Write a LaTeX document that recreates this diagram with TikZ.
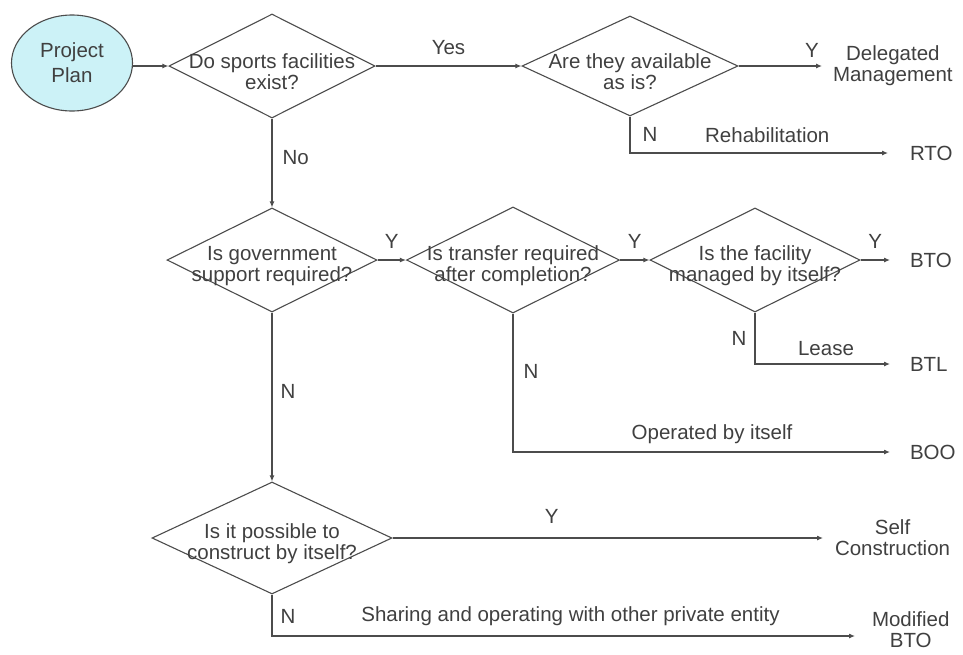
\documentclass[tikz,border=0pt]{standalone}
\usepackage{fontspec}
\setmainfont{Liberation Sans}
\usetikzlibrary{shapes.geometric,arrows.meta}
\definecolor{PlanCyan}{rgb}{0.80, 0.95, 0.97}
\definecolor{LineGray}{rgb}{0.30, 0.30, 0.30}
\definecolor{TextGray}{rgb}{0.25, 0.25, 0.25}

\tikzset{
	plan/.style={ellipse, draw=LineGray, line width=1.1pt, fill=PlanCyan, minimum width=121pt, minimum height=96pt, align=center, font=\fontsize{20.5}{25}\selectfont},
	question/.style={diamond, draw=LineGray, line width=1.1pt, inner sep=0pt},
	qtext/.style={align=center, inner sep=0pt, yshift=-6pt},
	result/.style={align=center, inner sep=2pt, anchor=west, outer xsep=#1},
	flow/.style={draw=LineGray, line width=1.1pt, -{Latex[length=6pt,width=5pt]}},
	tag/.style={inner sep=2pt}
}

\begin{document}
\begin{tikzpicture}[x=1pt,y=1pt,yscale=-1,xscale=1, font=\fontsize{20.5}{21}\selectfont, text=TextGray]
		\path[use as bounding box] (0,0) rectangle (963,654);

		% Start node
		\node[plan] (plan) at (72,63) {Project\\Plan};

		% The decisions
		\node[question, minimum width=206pt, minimum height=104pt, label={[qtext]center:Do sports facilities\\exist?}] (exist) at (272,66) {};
		\node[question, minimum width=216pt, minimum height=100pt, label={[qtext]center:Are they available\\as is?}] (avail) at (630,66) {};
		\node[question, minimum width=210pt, minimum height=104pt, label={[qtext]center:Is government\\support required?}] (govt) at (272,260) {};
		\node[question, minimum width=213pt, minimum height=106pt, label={[qtext]center:Is transfer required\\after completion?}] (transfer) at (513,260) {};
		\node[question, minimum width=210pt, minimum height=104pt, label={[qtext]center:Is the facility\\managed by itself?}] (managed) at (755,260) {};
		\node[question, minimum width=240pt, minimum height=112pt, label={[qtext]center:Is it possible to\\construct by itself?}] (construct) at (272,538) {};

		% The outcomes
		\node[result=9pt] (deleg) at (822,66) {Delegated\\Management};
		\node[result=20pt] (rto) at (888,153) {RTO};
		\node[result=18pt] (bto) at (890,260) {BTO};
		\node[result=18pt] (btl) at (890,364) {BTL};
		\node[result=18pt] (boo) at (890,452) {BOO};
		\node[result=10pt] (selfc) at (823,538) {Self\\Construction};
		\node[result=15pt] (mbto) at (855,630) {Modified\\BTO};

		% Connectors of the first row
		\draw[flow] (plan.east |- exist.west) -- (exist.west);
		\draw[flow] (exist.east) -- node[tag, above=9pt] {Yes} (avail.west);
		\draw[flow] (avail.east) -- node[tag, pos=0.88, above=6pt] {Y} (deleg.west);
		\draw[flow] (avail.south) |- node[tag, pos=0.25, right=10pt] {N} node[tag, pos=0.766, above=8pt] {Rehabilitation} (rto.west);
		\draw[flow] (exist.south) -- node[tag, pos=0.44, right=8pt] {No} (govt.north);

		% Connectors of the second row
		\draw[flow] (govt.east) -- node[tag, above=9pt] {Y} (transfer.west);
		\draw[flow] (transfer.east) -- node[tag, above=9pt] {Y} (managed.west);
		\draw[flow] (managed.east) -- node[tag, above=9pt] {Y} (bto.west);
		\draw[flow] (managed.south) |- node[tag, pos=0.25, left=6pt] {N} node[tag, pos=0.763, above=6pt] {Lease} (btl.west);
		\draw[flow] (transfer.south) |- node[tag, pos=0.21, right=8pt] {N} node[tag, pos=0.764, above=6pt] {Operated by itself} (boo.west);
		\draw[flow] (govt.south) -- node[tag, pos=0.47, right=6pt] {N} (construct.north);

		% Connectors of the last row
		\draw[flow] (construct.east) -- node[tag, pos=0.37, above=12pt] {Y} (selfc.west);
		\draw[flow] (construct.south) |- node[tag, pos=0.26, right=6pt] {N} node[tag, pos=0.756, above=8pt] {Sharing and operating with other private entity} ([yshift=6pt]mbto.west);
	\end{tikzpicture}
\end{document}
